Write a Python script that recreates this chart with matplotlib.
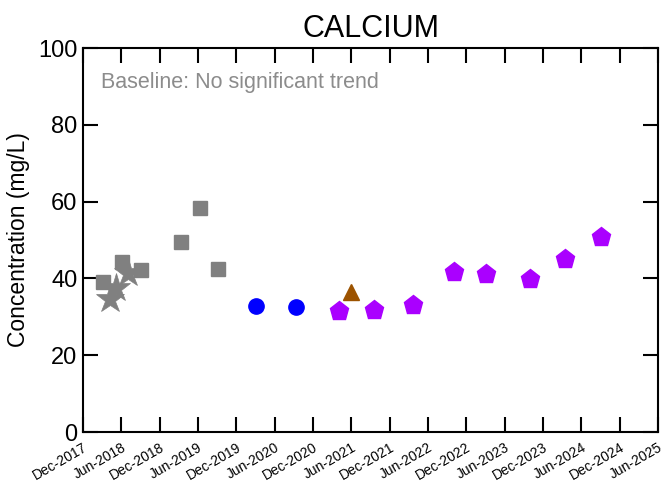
import matplotlib
matplotlib.use("Agg")
import matplotlib.pyplot as plt
import pandas as pd

plt.rcParams['font.family'] = ['Liberation Sans', 'DejaVu Sans']

# Baseline samples (gray squares)
base_sq_dates = ["2018-03-08", "2018-06-05", "2018-09-01", "2019-03-15", "2019-06-10", "2019-09-05"]
base_sq_vals = [39.1, 44.4, 42.1, 49.6, 58.4, 42.4]

# Baseline samples (gray stars)
base_st_dates = ["2018-04-10", "2018-05-05", "2018-07-05"]
base_st_vals = [34.6, 37.6, 41.3]

# Blue circles
circ_dates = ["2020-03-05", "2020-09-10"]
circ_vals = [32.8, 32.6]

# Brown triangle
tri_dates = ["2021-06-01"]
tri_vals = [36.5]

# Purple pentagons
pent_dates = ["2021-04-01", "2021-09-15", "2022-03-20", "2022-10-01", "2023-03-05",
              "2023-10-01", "2024-03-15", "2024-09-01"]
pent_vals = [31.6, 31.7, 33.2, 41.6, 41.1, 39.8, 45.1, 50.9]

tick_labels = ["Dec-2017", "Jun-2018", "Dec-2018", "Jun-2019", "Dec-2019", "Jun-2020",
               "Dec-2020", "Jun-2021", "Dec-2021", "Jun-2022", "Dec-2022", "Jun-2023",
               "Dec-2023", "Jun-2024", "Dec-2024", "Jun-2025"]

fig = plt.figure(figsize=(6.61, 4.87), dpi=100)
ax = fig.add_axes([0.1256, 0.1129, 0.8699, 0.7885])

d = pd.to_datetime
ax.plot(d(base_st_dates), base_st_vals, '*', color='#808080', ms=21, mec='#808080', mew=0.5, zorder=2)
ax.plot(d(base_sq_dates), base_sq_vals, 's', color='#808080', ms=10.5, mec='#808080', zorder=3)
ax.plot(d(circ_dates), circ_vals, 'o', color='#0000ff', ms=11, zorder=3)
ax.plot(d(tri_dates), tri_vals, '^', color='#9c5300', ms=11, zorder=3)
ax.plot(d(pent_dates), pent_vals, 'p', color='#aa00ff', ms=14, zorder=3)

tick_dates = pd.to_datetime(["%s-%02d-01" % (s.split('-')[1], 12 if s.startswith('Dec') else 6)
                             for s in tick_labels])
ax.set_xlim(tick_dates[0], tick_dates[-1])
ax.set_xticks(tick_dates)
ax.set_xticklabels(tick_labels, rotation=30, ha='right', rotation_mode='anchor', fontsize=10)
ax.set_ylim(0, 100)
ax.set_yticks(range(0, 101, 20))
ax.tick_params(axis='y', labelsize=17)
ax.tick_params(which='both', direction='in', length=10.5, width=1.5, top=True, right=True, pad=4)
ax.tick_params(axis='x', pad=6)
for s in ax.spines.values():
    s.set_linewidth(1.5)

ax.set_ylabel("Concentration (mg/L)", fontsize=16.5, labelpad=6)
ax.set_title("CALCIUM", fontsize=22, pad=8)
ax.text(0.032, 0.91, "Baseline: No significant trend", transform=ax.transAxes,
        color='#8c8c8c', fontsize=15.5, va='center', ha='left')

fig.savefig("out.png", dpi=100)
